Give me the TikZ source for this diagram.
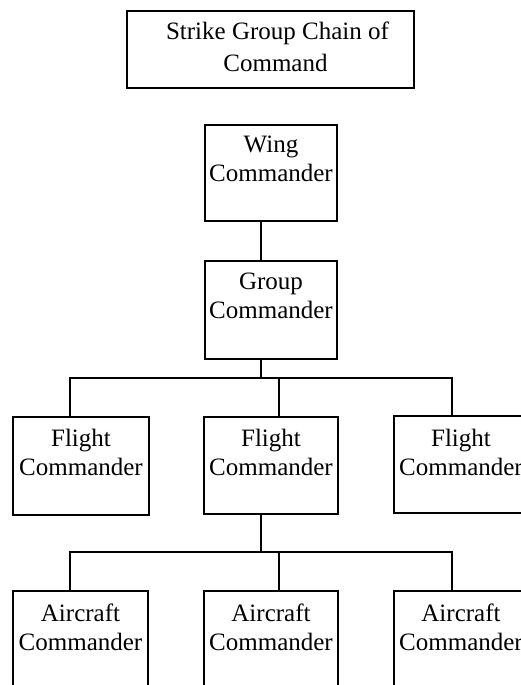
\documentclass[tikz,border=0pt]{standalone}
\usepackage{fontspec}
\setmainfont{Liberation Serif}
\tikzset{
  orgbox/.style={draw, line width=2pt, inner sep=0pt, anchor=north west, font=\fontsize{25}{29.5}\selectfont},
  link/.style={line width=2pt},
}
\newcommand\boxbody[4]{\parbox[t][#2][t]{#1}{\centering\rule{0pt}{#3}#4}}
\begin{document}
\begin{tikzpicture}[x=1pt,y=-1pt]
\useasboundingbox (0,0) rectangle (521,685);
\clip (0,0) rectangle (521,685);
% boxes
\node[orgbox, font=\fontsize{25}{32}\selectfont] (title) at (126,10) {\boxbody{287pt}{77pt}{29pt}{\hspace*{14pt}Strike Group Chain of\\\hspace*{10pt}Command}};
\node[orgbox] (wing) at (204,124) {\boxbody{132pt}{96pt}{27pt}{Wing\\Commander}};
\node[orgbox] (group) at (204,260) {\boxbody{132pt}{98pt}{28pt}{Group\\Commander}};
\node[orgbox] (f1) at (12,416) {\boxbody{136pt}{98pt}{29pt}{Flight\\Commander}};
\node[orgbox] (f2) at (203,416) {\boxbody{134pt}{97pt}{29pt}{Flight\\Commander}};
\node[orgbox] (f3) at (393,415) {\boxbody{134pt}{97pt}{30pt}{Flight\\Commander}};
\node[orgbox] (a1) at (12,590) {\boxbody{135pt}{100pt}{30pt}{Aircraft\\Commander}};
\node[orgbox] (a2) at (203,590) {\boxbody{134pt}{100pt}{30pt}{Aircraft\\Commander}};
\node[orgbox] (a3) at (393,590) {\boxbody{134pt}{100pt}{30pt}{Aircraft\\Commander}};
% connector columns and bus rows
\coordinate (c) at (261,0);
\coordinate (L) at (70,0);
\coordinate (M) at (279,0);
\coordinate (R) at (452,0);
\coordinate (bus1) at (0,378);
\coordinate (bus2) at (0,552);
% connectors
\draw[link] (wing.south -| c) -- (group.north -| c);
\draw[link] (group.south -| c) -- (c |- bus1);
\draw[link] (f1.north -| L) -- (L |- bus1) -- (R |- bus1) -- (f3.north -| R);
\draw[link] (M |- bus1) -- (f2.north -| M);
\draw[link] (f2.south -| c) -- (c |- bus2);
\draw[link] (a1.north -| L) -- (L |- bus2) -- (R |- bus2) -- (a3.north -| R);
\draw[link] (M |- bus2) -- (a2.north -| M);
\end{tikzpicture}
\end{document}
